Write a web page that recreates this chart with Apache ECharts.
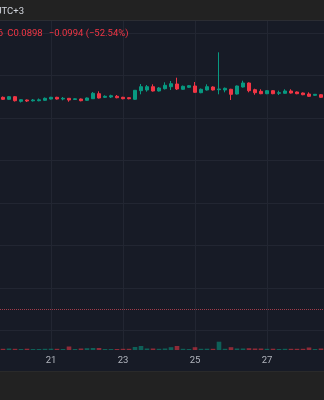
<!DOCTYPE html>
<html><head><meta charset="utf-8">
<script src="https://cdn.jsdelivr.net/npm/echarts@6/dist/echarts.min.js"></script>
<style>html,body{margin:0;padding:0;background:#171b26}#c{width:324px;height:400px}</style>
</head><body><div id="c"></div>
<script>
// 4h candles, 19 16:00 .. 28 12:00
const categories = [
'19 16:00','19 20:00',
'20 00:00','20 04:00','20 08:00','20 12:00','20 16:00','20 20:00',
'21 00:00','21 04:00','21 08:00','21 12:00','21 16:00','21 20:00',
'22 00:00','22 04:00','22 08:00','22 12:00','22 16:00','22 20:00',
'23 00:00','23 04:00','23 08:00','23 12:00','23 16:00','23 20:00',
'24 00:00','24 04:00','24 08:00','24 12:00','24 16:00','24 20:00',
'25 00:00','25 04:00','25 08:00','25 12:00','25 16:00','25 20:00',
'26 00:00','26 04:00','26 08:00','26 12:00','26 16:00','26 20:00',
'27 00:00','27 04:00','27 08:00','27 12:00','27 16:00','27 20:00',
'28 00:00','28 04:00','28 08:00','28 12:00'];
// [open, close, low, high]
const candles = [
[0.18974,0.18880,0.18847,0.19012],[0.18880,0.19002,0.18856,0.19035],[0.19002,0.18814,0.18776,0.19035],
[0.18786,0.18861,0.18729,0.18880],[0.18847,0.18800,0.18753,0.18871],[0.18809,0.18847,0.18776,0.18894],
[0.18814,0.18856,0.18786,0.18918],[0.18833,0.18927,0.18809,0.18965],[0.18894,0.18974,0.18871,0.18998],
[0.18974,0.18894,0.18871,0.18998],[0.18894,0.18927,0.18833,0.18988],[0.18927,0.18847,0.18767,0.18941],
[0.18871,0.18904,0.18847,0.18927],[0.18894,0.18814,0.18786,0.18918],[0.18833,0.18941,0.18814,0.18965],
[0.18908,0.19162,0.18894,0.19224],[0.19144,0.18941,0.18918,0.19256],[0.18974,0.19021,0.18941,0.19068],
[0.18988,0.19049,0.18941,0.19096],[0.19021,0.18955,0.18927,0.19082],[0.18974,0.18908,0.18880,0.18998],
[0.18955,0.18908,0.18880,0.18979],[0.18880,0.19304,0.18861,0.19318],[0.19285,0.19473,0.19115,0.19600],
[0.19318,0.19473,0.19238,0.19553],[0.19473,0.19271,0.19247,0.19586],[0.19271,0.19412,0.19247,0.19459],
[0.19379,0.19539,0.19341,0.19680],[0.19473,0.19614,0.19318,0.19741],[0.19600,0.19365,0.19318,0.19896],
[0.19351,0.19492,0.19327,0.19529],[0.19445,0.19520,0.19412,0.19553],[0.19506,0.19209,0.19186,0.19694],
[0.19191,0.19351,0.19167,0.19388],[0.19318,0.19473,0.19294,0.19586],[0.19459,0.19318,0.19294,0.19492],
[0.19332,0.19365,0.19115,0.21092],[0.19318,0.19398,0.19209,0.19435],[0.19351,0.19115,0.18847,0.19374],
[0.19129,0.19506,0.19106,0.19529],[0.19459,0.19647,0.19435,0.19755],[0.19647,0.19285,0.19209,0.19671],
[0.19332,0.19191,0.19096,0.19379],[0.19256,0.19144,0.19120,0.19351],[0.19144,0.19285,0.19120,0.19308],
[0.19285,0.19144,0.19120,0.19308],[0.19162,0.19191,0.19082,0.19285],[0.19162,0.19271,0.19144,0.19351],
[0.19271,0.19176,0.19153,0.19351],[0.19224,0.19144,0.19120,0.19247],[0.19176,0.19096,0.19073,0.19200],
[0.19129,0.19021,0.18998,0.19209],[0.19068,0.19115,0.19045,0.19129],[0.19096,0.18974,0.18951,0.19120]];
const volumes = [120,150,120,100,130,100,100,120,130,120,100,350,100,150,180,200,200,100,100,100,120,120,300,400,150,150,120,150,280,400,120,100,280,120,130,120,830,120,280,150,150,180,150,150,120,130,100,120,120,120,120,250,100,150];
const dayTicks = ['21','23','25','27'];
const lastPrice = 0.0898;
const legendPrev = '0.0896';
const legendClose = 'C0.0898';
const legendChange = '\u22120.0994 (\u221252.54%)';
const tzLabel = 'UTC+3';

const UP = '#089981', DOWN = '#f23645';
const UPV = 'rgba(8,153,129,0.55)', DOWNV = 'rgba(242,54,69,0.55)';
const GRIDC = '#222632';
const FONT = 'Roboto, "Noto Sans", sans-serif';

const chart = echarts.init(document.getElementById('c'), null, {renderer: 'canvas'});
const isTick = v => { const p = v.split(' '); return p[1] === '00:00' && dayTicks.indexOf(p[0]) >= 0; };
const gl = -0.38, gw = 328.32;
chart.setOption({
  animation: false,
  backgroundColor: '#171b26',
  grid: [
    {left: gl, width: gw, top: 21, bottom: 27},
    {left: gl, width: gw, top: 21, bottom: 50}
  ],
  xAxis: [
    {type: 'category', gridIndex: 0, data: categories, boundaryGap: true,
     axisLine: {show: false}, axisTick: {show: false}, axisLabel: {show: false}, splitLine: {show: false}},
    {type: 'category', gridIndex: 1, data: categories, boundaryGap: true,
     axisLine: {show: false}, axisTick: {show: false}, splitLine: {show: false},
     axisLabel: {show: true, interval: (i, v) => isTick(v), formatter: v => v.split(' ')[0],
       color: '#b2b5be', fontSize: 9.5, fontFamily: FONT, margin: 6}}
  ],
  yAxis: [
    {type: 'value', gridIndex: 0, min: 0.06, max: 0.22565, interval: 0.02,
     axisLine: {show: false}, axisTick: {show: false}, axisLabel: {show: false},
     splitLine: {show: true, showMinLine: false, showMaxLine: false, lineStyle: {color: GRIDC, width: 1}}},
    {type: 'value', gridIndex: 1, min: 0, max: 32900,
     axisLine: {show: false}, axisTick: {show: false}, axisLabel: {show: false}, splitLine: {show: false}}
  ],
  series: [
    {type: 'bar', xAxisIndex: 1, yAxisIndex: 1, barWidth: 4.6, z: 1,
     data: volumes.map((v, i) => ({value: v, itemStyle: {color: candles[i][1] >= candles[i][0] ? UPV : DOWNV}})),
     markLine: {silent: true, z: 0, symbol: ['none', 'none'], label: {show: false},
       lineStyle: {color: GRIDC, type: 'solid', width: 1},
       data: categories.filter(isTick).map(c => ({xAxis: c}))}},
    {type: 'candlestick', xAxisIndex: 0, yAxisIndex: 0, data: candles, barWidth: 3.6, z: 3,
     itemStyle: {color: UP, color0: DOWN, borderColor: UP, borderColor0: DOWN, borderWidth: 1},
     markLine: {silent: true, symbol: ['none', 'none'], label: {show: false},
       lineStyle: {color: '#e0485a', type: 'dotted', width: 1, opacity: 0.7},
       data: [{yAxis: lastPrice}]}}
  ],
  graphic: [
    {type: 'rect', z: 100, shape: {x: 0, y: 0, width: 324, height: 20}, style: {fill: '#222222'}},
    {type: 'rect', z: 100, shape: {x: 0, y: 20, width: 324, height: 1}, style: {fill: '#2b2d33'}},
    {type: 'rect', z: 100, shape: {x: 0, y: 371, width: 324, height: 29}, style: {fill: '#222222'}},
    {type: 'rect', z: 100, shape: {x: 0, y: 371, width: 324, height: 1}, style: {fill: '#2a2a2a'}},
    {type: 'text', z: 101, style: {text: tzLabel, x: 24, y: 12, align: 'right', verticalAlign: 'middle',
      fill: '#d1d4dc', font: '9.5px ' + FONT}},
    {type: 'text', z: 101, style: {text: legendPrev, x: 3, y: 34, align: 'right', verticalAlign: 'middle',
      fill: DOWN, font: '9.5px ' + FONT}},
    {type: 'text', z: 101, style: {text: legendClose, x: 7.3, y: 34, align: 'left', verticalAlign: 'middle',
      fill: DOWN, font: '9.5px ' + FONT}},
    {type: 'text', z: 101, style: {text: legendChange, x: 48.7, y: 34, align: 'left', verticalAlign: 'middle',
      fill: DOWN, font: '9.5px ' + FONT}}
  ]
});
</script></body></html>
